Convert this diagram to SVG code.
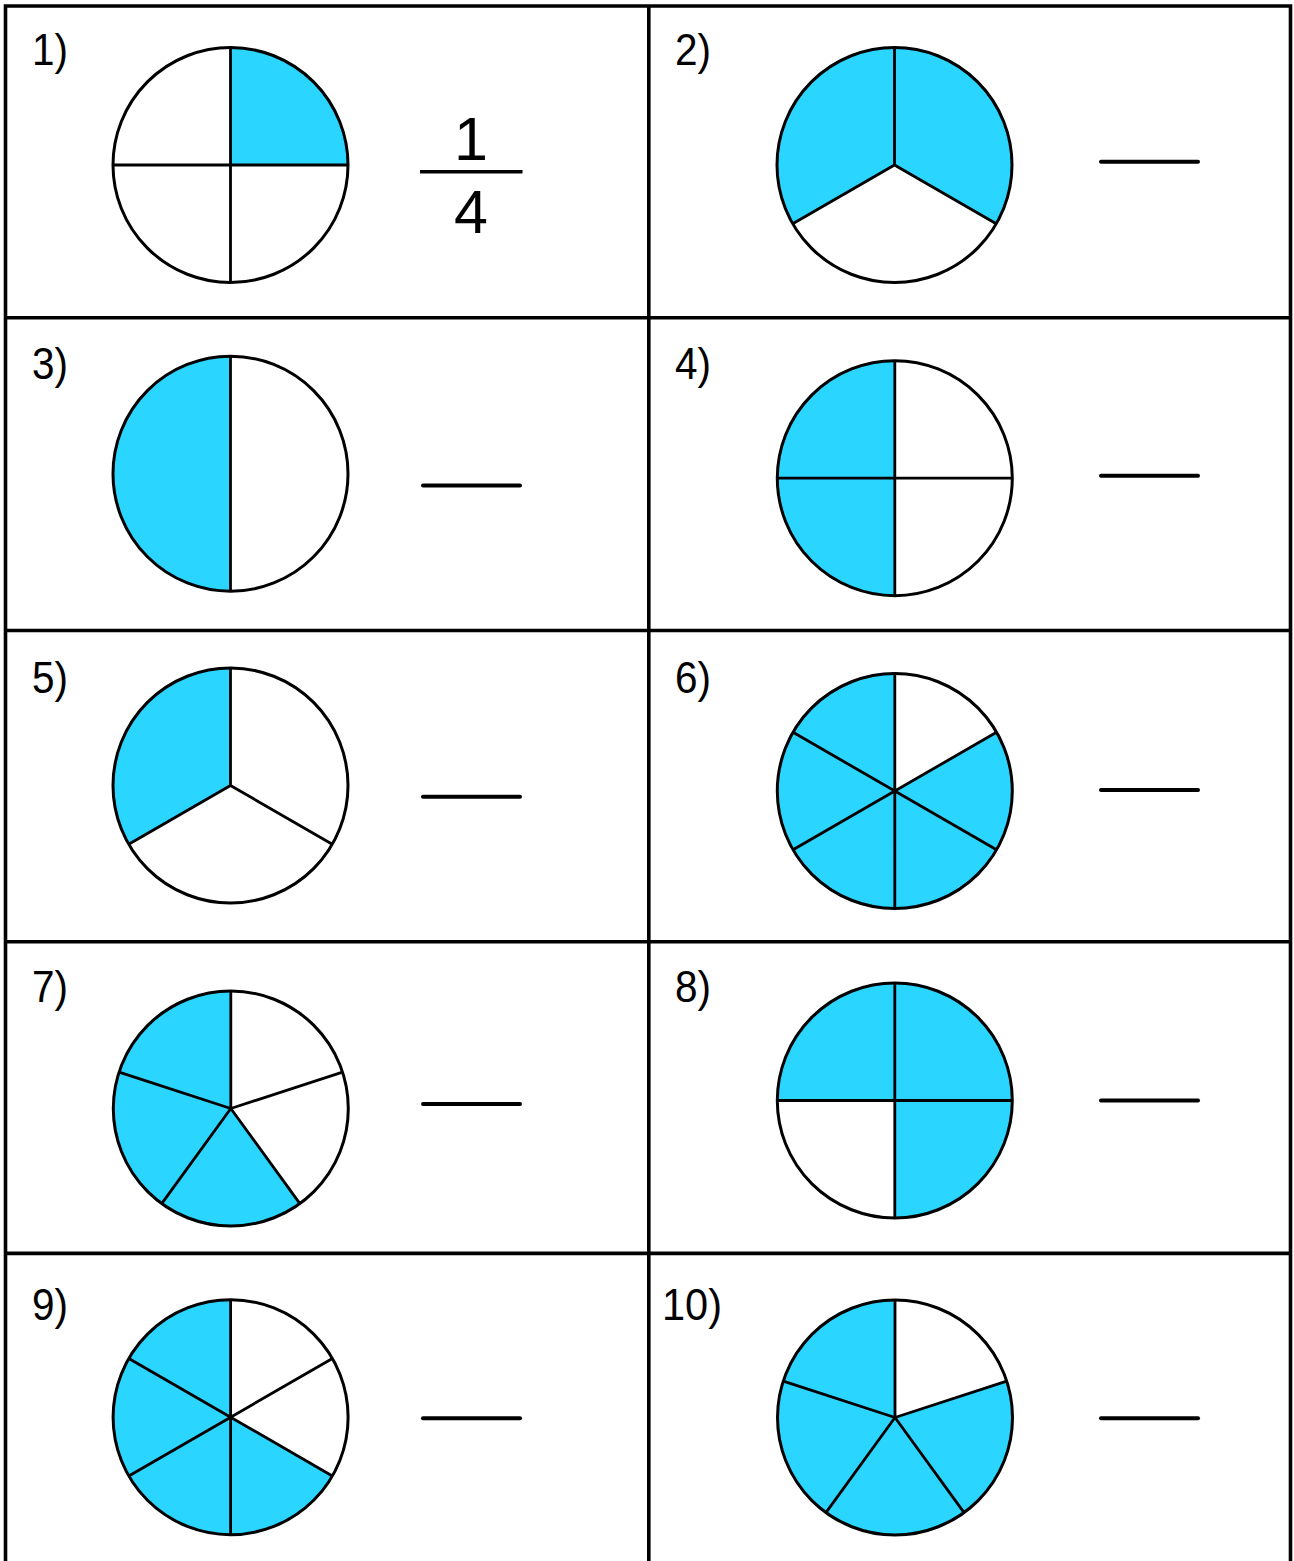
<svg xmlns="http://www.w3.org/2000/svg" width="1294" height="1561" viewBox="0 0 1294 1561">
<style>
.grid{stroke:#000;stroke-width:3.6;fill:none}
.fill{fill:#2AD5FF;stroke:none}
.base{fill:#fff;stroke:none}
.div{stroke:#000;stroke-width:2.8;fill:none}
.rim{fill:none;stroke:#000;stroke-width:3}
.ans{stroke:#000;stroke-width:4;stroke-linecap:round}
.lbl{font-family:"Liberation Sans",Arial,sans-serif;font-size:44px;fill:#000}
.frac{font-family:"Liberation Sans",Arial,sans-serif;font-size:61px;fill:#000;text-anchor:middle}
</style>
<defs>
<circle id="disc" r="117.5"/>
</defs>
<rect width="1294" height="1561" fill="#fff"/>
<g id="grid">
<path class="grid" d="M5.5,1561 V6 H1290.5 V1561"/>
<line class="grid" x1="648.8" y1="6" x2="648.8" y2="1561"/>
<line class="grid" x1="5.5" y1="317.7" x2="1290.5" y2="317.7"/>
<line class="grid" x1="5.5" y1="630.5" x2="1290.5" y2="630.5"/>
<line class="grid" x1="5.5" y1="941.7" x2="1290.5" y2="941.7"/>
<line class="grid" x1="5.5" y1="1253.4" x2="1290.5" y2="1253.4"/>
</g>
<g id="connectors"/>

<g id="item1">
<text class="lbl" x="32" y="65" textLength="36" lengthAdjust="spacingAndGlyphs">1)</text>
<g transform="translate(230.5,165)">
<use href="#disc" class="base"/>
<path class="fill" d="M0,0 L0,-117.5 A117.5,117.5 0 0 1 117.5,0 Z"/>
<path class="div" d="M0,-117.5 V117.5 M-117.5,0 H117.5"/>
<use href="#disc" class="rim"/>
</g>
<text class="frac" x="471" y="160">1</text>
<line x1="420" y1="171.7" x2="522.5" y2="171.7" stroke="#000" stroke-width="3.6"/>
<text class="frac" x="471" y="232.5">4</text>
</g>

<g id="item2">
<text class="lbl" x="675" y="65" textLength="36" lengthAdjust="spacingAndGlyphs">2)</text>
<g transform="translate(894.5,165)">
<use href="#disc" class="base"/>
<path class="fill" d="M0,0 L-101.76,58.75 A117.5,117.5 0 1 1 101.76,58.75 Z"/>
<path class="div" d="M0,0 V-117.5 M0,0 L101.76,58.75 M0,0 L-101.76,58.75"/>
<use href="#disc" class="rim"/>
</g>
<line class="ans" x1="1101" y1="161.7" x2="1198" y2="161.7"/>
</g>

<g id="item3">
<text class="lbl" x="32" y="379" textLength="36" lengthAdjust="spacingAndGlyphs">3)</text>
<g transform="translate(230.5,473.7)">
<use href="#disc" class="base"/>
<path class="fill" d="M0,-117.5 A117.5,117.5 0 0 0 0,117.5 Z"/>
<path class="div" d="M0,-117.5 V117.5"/>
<use href="#disc" class="rim"/>
</g>
<line class="ans" x1="423" y1="485.5" x2="520" y2="485.5"/>
</g>

<g id="item4">
<text class="lbl" x="675" y="379" textLength="36" lengthAdjust="spacingAndGlyphs">4)</text>
<g transform="translate(894.8,478.2)">
<use href="#disc" class="base"/>
<path class="fill" d="M0,-117.5 A117.5,117.5 0 0 0 0,117.5 Z"/>
<path class="div" d="M0,-117.5 V117.5 M-117.5,0 H117.5"/>
<use href="#disc" class="rim"/>
</g>
<line class="ans" x1="1101" y1="475.7" x2="1198" y2="475.7"/>
</g>

<g id="item5">
<text class="lbl" x="32" y="693" textLength="36" lengthAdjust="spacingAndGlyphs">5)</text>
<g transform="translate(230.5,785.5)">
<use href="#disc" class="base"/>
<path class="fill" d="M0,0 L-101.76,58.75 A117.5,117.5 0 0 1 0,-117.5 Z"/>
<path class="div" d="M0,0 V-117.5 M0,0 L101.76,58.75 M0,0 L-101.76,58.75"/>
<use href="#disc" class="rim"/>
</g>
<line class="ans" x1="423" y1="796.7" x2="520" y2="796.7"/>
</g>

<g id="item6">
<text class="lbl" x="675" y="693" textLength="36" lengthAdjust="spacingAndGlyphs">6)</text>
<g transform="translate(894.8,791)">
<use href="#disc" class="base"/>
<path class="fill" d="M0,0 L101.76,-58.75 A117.5,117.5 0 1 1 0,-117.5 Z"/>
<path class="div" d="M0,-117.5 V117.5 M101.76,-58.75 L-101.76,58.75 M101.76,58.75 L-101.76,-58.75"/>
<use href="#disc" class="rim"/>
</g>
<line class="ans" x1="1101" y1="790" x2="1198" y2="790"/>
</g>

<g id="item7">
<text class="lbl" x="32" y="1002" textLength="36" lengthAdjust="spacingAndGlyphs">7)</text>
<g transform="translate(230.8,1108.5)">
<use href="#disc" class="base"/>
<path class="fill" d="M0,0 L69.07,95.06 A117.5,117.5 0 1 1 0,-117.5 Z"/>
<path class="div" d="M0,0 V-117.5 M0,0 L111.75,-36.31 M0,0 L69.07,95.06 M0,0 L-69.07,95.06 M0,0 L-111.75,-36.31"/>
<use href="#disc" class="rim"/>
</g>
<line class="ans" x1="423" y1="1104" x2="520" y2="1104"/>
</g>

<g id="item8">
<text class="lbl" x="675" y="1002" textLength="36" lengthAdjust="spacingAndGlyphs">8)</text>
<g transform="translate(894.8,1100.5)">
<use href="#disc" class="base"/>
<path class="fill" d="M0,0 L-117.5,0 A117.5,117.5 0 1 1 0,117.5 Z"/>
<path class="div" d="M0,-117.5 V117.5 M-117.5,0 H117.5"/>
<use href="#disc" class="rim"/>
</g>
<line class="ans" x1="1101" y1="1100.5" x2="1198" y2="1100.5"/>
</g>

<g id="item9">
<text class="lbl" x="32" y="1320" textLength="36" lengthAdjust="spacingAndGlyphs">9)</text>
<g transform="translate(230.6,1417.2)">
<use href="#disc" class="base"/>
<path class="fill" d="M0,0 L101.76,58.75 A117.5,117.5 0 1 1 0,-117.5 Z"/>
<path class="div" d="M0,-117.5 V117.5 M101.76,-58.75 L-101.76,58.75 M101.76,58.75 L-101.76,-58.75"/>
<use href="#disc" class="rim"/>
</g>
<line class="ans" x1="423" y1="1418.3" x2="520" y2="1418.3"/>
</g>

<g id="item10">
<text class="lbl" x="662" y="1320" textLength="60" lengthAdjust="spacingAndGlyphs">10)</text>
<g transform="translate(895,1417.5)">
<use href="#disc" class="base"/>
<path class="fill" d="M0,0 L111.75,-36.31 A117.5,117.5 0 1 1 0,-117.5 Z"/>
<path class="div" d="M0,0 V-117.5 M0,0 L111.75,-36.31 M0,0 L69.07,95.06 M0,0 L-69.07,95.06 M0,0 L-111.75,-36.31"/>
<use href="#disc" class="rim"/>
</g>
<line class="ans" x1="1101" y1="1418.3" x2="1198" y2="1418.3"/>
</g>
</svg>
